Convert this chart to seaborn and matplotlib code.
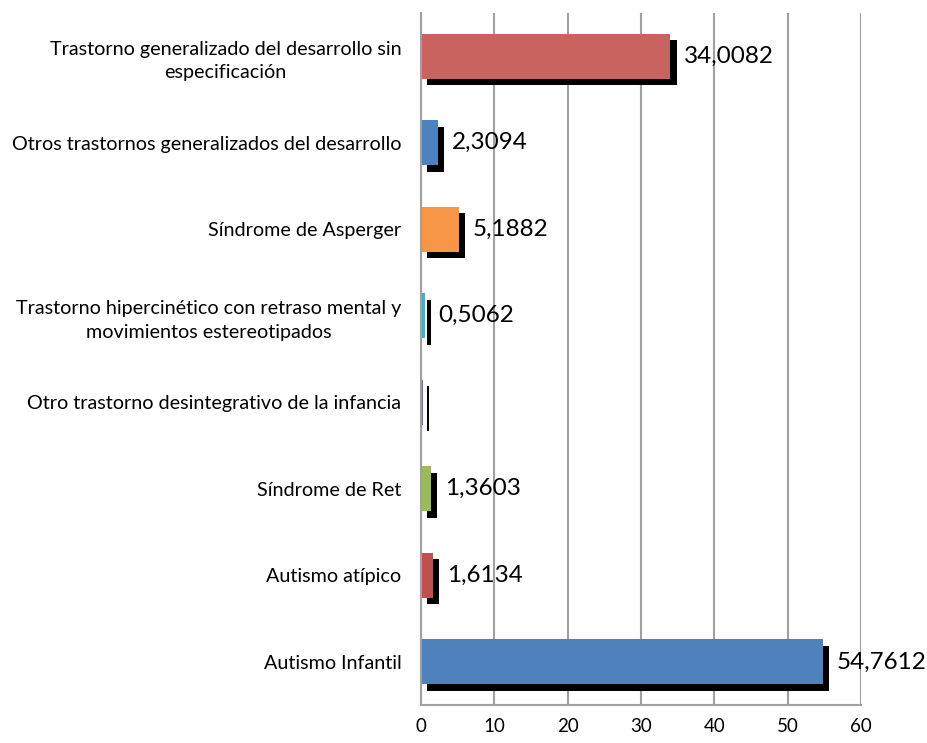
import matplotlib.pyplot as plt
import matplotlib.patheffects as pe
import numpy as np
import pandas as pd
import seaborn as sns

categorias = [
    "Trastorno generalizado del desarrollo sin\nespecificación",
    "Otros trastornos generalizados del desarrollo",
    "Síndrome de Asperger",
    "Trastorno hipercinético con retraso mental y\nmovimientos estereotipados",
    "Otro trastorno desintegrativo de la infancia",
    "Síndrome de Ret",
    "Autismo atípico",
    "Autismo Infantil",
]
porcentajes = [34.0082, 2.3094, 5.1882, 0.5062, 0.2531, 1.3603, 1.6134, 54.7612]
etiquetas = ["34,0082", "2,3094", "5,1882", "0,5062", "", "1,3603", "1,6134", "54,7612"]
colores = ["#C8635F", "#4F81BD", "#F79646", "#4BACC6", "#8064A2",
           "#9BBB59", "#C0504D", "#4F81BD"]

sns.set_style("white")
plt.rcParams["font.family"] = ["Lato", "DejaVu Sans"]

df = pd.DataFrame({"categoria": categorias, "porcentaje": porcentajes})

fig, ax = plt.subplots(figsize=(9.27, 7.43), dpi=100)
fig.subplots_adjust(left=0.454, right=0.929, bottom=0.051, top=0.9825)

sns.barplot(data=df, y="categoria", x="porcentaje", hue="categoria",
            palette=colores, legend=False, width=0.52, saturation=1,
            orient="h", ax=ax)

sombra = [pe.SimplePatchShadow(offset=(4.5, -4.5), shadow_rgbFace="black", alpha=1),
          pe.Normal()]
for bar in ax.patches:
    bar.set_path_effects(sombra)
    bar.set_linewidth(0)

for cont, lab in zip(ax.containers, etiquetas):
    ax.bar_label(cont, labels=[lab], padding=10, fontsize=17.5, color="black")

ax.set_xlim(0, 60)
ax.set_ylim(len(categorias) - 0.5, -0.5)
ax.set_xticks(np.arange(0, 61, 10))
ax.set_xlabel("")
ax.set_ylabel("")

ax.grid(axis="x", color="#A0A0A0", linewidth=1.5)
ax.grid(axis="y", visible=False)
ax.set_axisbelow(True)

for s in ["top", "right"]:
    ax.spines[s].set_visible(False)
for s in ["left", "bottom"]:
    ax.spines[s].set_color("#A0A0A0")
    ax.spines[s].set_linewidth(1.5)

ax.set_yticks(np.arange(-0.5, len(categorias), 1), minor=True)
ax.tick_params(axis="y", which="major", length=0, pad=14, labelsize=14.2,
               labelcolor="black")
ax.tick_params(axis="y", which="minor", length=6, width=1.5, color="#A0A0A0")
ax.tick_params(axis="x", length=6, width=1.5, color="#A0A0A0", labelsize=13.5,
               labelcolor="black")
for t in ax.get_yticklabels():
    t.set_multialignment("center")
    t.set_linespacing(1.45)

plt.savefig("out.png", dpi=100)
